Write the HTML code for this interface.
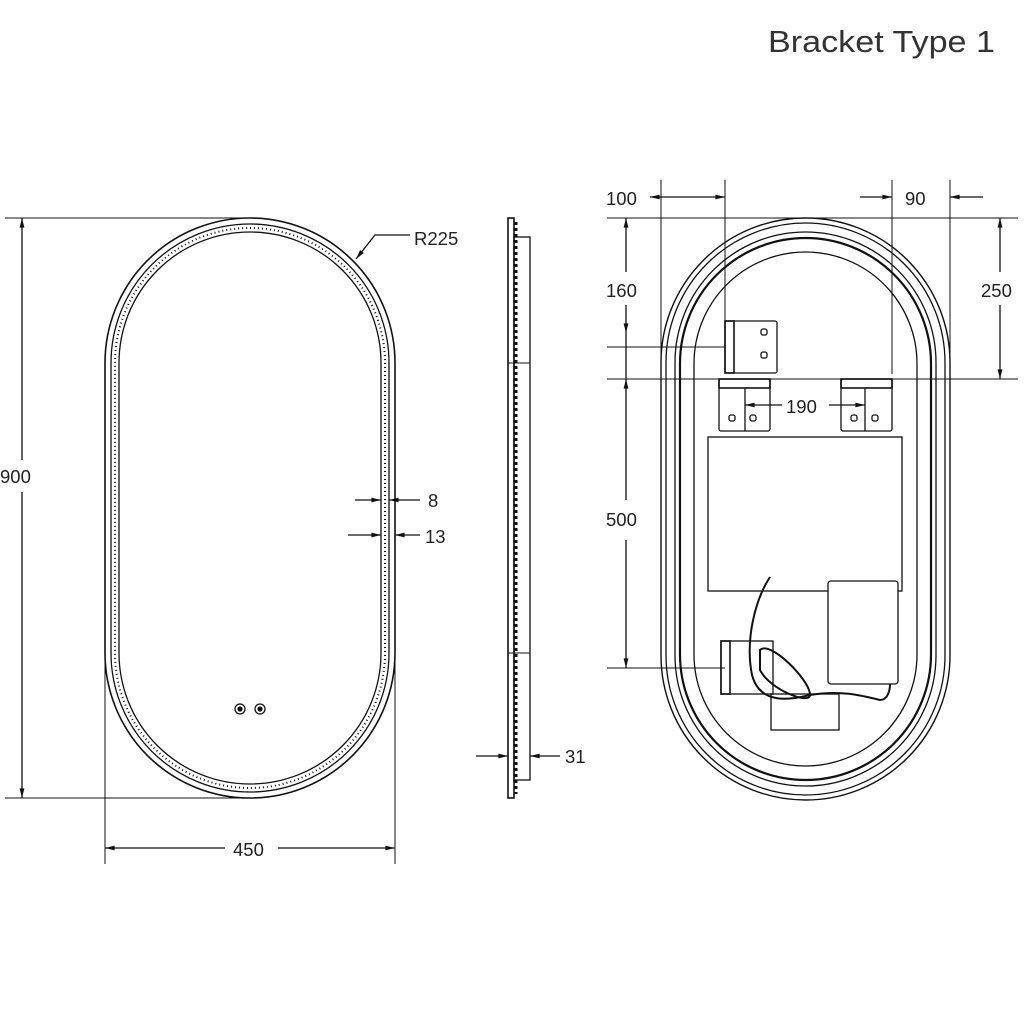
<!DOCTYPE html>
<html><head><meta charset="utf-8"><style>
html,body{margin:0;padding:0;background:#fff;}
svg{display:block;}
text{font-family:"Liberation Sans",sans-serif;fill:#222;}
</style></head><body>
<svg width="1024" height="1024" viewBox="0 0 1024 1024" xmlns="http://www.w3.org/2000/svg">
<defs>
<marker id="a" viewBox="0 0 12 10" refX="12" refY="5" markerWidth="13" markerHeight="8" orient="auto-start-reverse" markerUnits="userSpaceOnUse"><path d="M0,2 L12,5 L0,8 z" fill="#111"/></marker>
</defs>
<text x="768" y="52" font-size="31" textLength="227" lengthAdjust="spacingAndGlyphs" style="fill:#333">Bracket Type 1</text>
<g fill="none" stroke="#111" stroke-width="1.3">
<rect x="105" y="218" width="290" height="580" rx="145" stroke-width="1.6"/>
<rect x="111" y="224" width="278" height="568" rx="139"/>
<rect x="119" y="232" width="262" height="552" rx="131"/>
<rect x="115" y="228" width="270" height="560" rx="135" stroke-dasharray="1 3" stroke-width="2"/>
<circle cx="240" cy="709" r="5"/><circle cx="240" cy="709" r="2" fill="#111"/>
<circle cx="260" cy="709" r="5"/><circle cx="260" cy="709" r="2" fill="#111"/>
<line x1="5" y1="218" x2="245" y2="218" stroke-width="1"/>
<line x1="5" y1="798" x2="245" y2="798" stroke-width="1"/>
<line x1="22" y1="218" x2="22" y2="460" marker-start="url(#a)"/>
<line x1="22" y1="492" x2="22" y2="798" marker-end="url(#a)"/>
<line x1="105" y1="650" x2="105" y2="864" stroke-width="1"/>
<line x1="395" y1="650" x2="395" y2="864" stroke-width="1"/>
<line x1="105" y1="848" x2="225" y2="848" marker-start="url(#a)"/>
<line x1="278" y1="848" x2="395" y2="848" marker-end="url(#a)"/>
<polyline points="410,235 375,235 356,259" marker-end="url(#a)"/>
<line x1="355" y1="500" x2="381" y2="500" marker-end="url(#a)"/>
<line x1="420" y1="500" x2="389" y2="500" marker-end="url(#a)"/>
<line x1="348" y1="535" x2="381" y2="535" marker-end="url(#a)"/>
<line x1="420" y1="535" x2="395" y2="535" marker-end="url(#a)"/>
<rect x="508" y="218" width="6" height="580" stroke-width="1.6"/>
<line x1="516" y1="222" x2="516" y2="794" stroke-dasharray="3 3" stroke-width="3"/>
<rect x="514" y="237" width="16" height="543"/>
<line x1="508" y1="363" x2="530" y2="363" stroke-width="1"/>
<line x1="508" y1="653" x2="530" y2="653" stroke-width="1"/>
<line x1="476" y1="756" x2="508" y2="756" marker-end="url(#a)"/>
<line x1="560" y1="756" x2="530" y2="756" marker-end="url(#a)"/>
<rect x="661" y="218" width="289" height="582" rx="144.5" stroke-width="1.4"/>
<rect x="666" y="223" width="279" height="572" rx="139.5"/>
<rect x="675" y="232" width="261" height="554" rx="130.5"/>
<rect x="680" y="238" width="251" height="542" rx="125.5" stroke-width="2.2"/>
<rect x="694" y="252" width="223" height="514" rx="111.5"/>
<line x1="607" y1="218" x2="1018" y2="218" stroke-width="1"/>
<line x1="607" y1="379" x2="1018" y2="379" stroke-width="1"/>
<line x1="661" y1="180" x2="661" y2="580" stroke-width="1"/>
<line x1="725" y1="180" x2="725" y2="330" stroke-width="1"/>
<line x1="892" y1="180" x2="892" y2="374" stroke-width="1"/>
<line x1="950" y1="180" x2="950" y2="500" stroke-width="1"/>
<line x1="650" y1="197" x2="725" y2="197" marker-start="url(#a)" marker-end="url(#a)"/>
<line x1="860" y1="197" x2="892" y2="197" marker-end="url(#a)"/>
<line x1="983" y1="197" x2="950" y2="197" marker-end="url(#a)"/>
<line x1="1000" y1="218" x2="1000" y2="272" marker-start="url(#a)"/>
<line x1="1000" y1="305" x2="1000" y2="379" marker-end="url(#a)"/>
<line x1="626" y1="218" x2="626" y2="272" marker-start="url(#a)"/>
<line x1="626" y1="305" x2="626" y2="333" marker-end="url(#a)"/>
<line x1="626" y1="333" x2="626" y2="379"/>
<line x1="607" y1="347" x2="725" y2="347" stroke-width="1"/>
<line x1="626" y1="379" x2="626" y2="500" marker-start="url(#a)"/>
<line x1="626" y1="540" x2="626" y2="668" marker-end="url(#a)"/>
<line x1="607" y1="668" x2="725" y2="668" stroke-width="1"/>
<rect x="725" y="321" width="52" height="52" rx="2"/>
<rect x="725" y="321" width="9" height="52" stroke-width="1.6"/>
<rect x="761" y="329" width="6" height="6" rx="2"/><rect x="761" y="352" width="6" height="6" rx="2"/>
<rect x="719" y="379" width="51" height="52" rx="2"/>
<rect x="719" y="379" width="51" height="9" stroke-width="1.6"/>
<line x1="745" y1="388" x2="745" y2="431"/>
<rect x="729" y="415" width="6" height="6" rx="2"/><rect x="750" y="415" width="6" height="6" rx="2"/>
<rect x="841" y="379" width="51" height="52" rx="2"/>
<rect x="841" y="379" width="51" height="9" stroke-width="1.6"/>
<line x1="865" y1="388" x2="865" y2="431"/>
<rect x="851" y="415" width="6" height="6" rx="2"/><rect x="872" y="415" width="6" height="6" rx="2"/>
<line x1="782" y1="405" x2="745" y2="405" marker-end="url(#a)"/>
<line x1="829" y1="405" x2="865" y2="405" marker-end="url(#a)"/>
<rect x="708" y="437" width="194" height="154"/>
<rect x="828" y="581" width="70" height="103" rx="3" fill="#fff"/>
<rect x="721" y="641" width="52" height="53"/>
<rect x="721" y="641" width="9" height="53" stroke-width="1.6"/>
<rect x="771" y="694" width="68" height="36"/>
<path d="M770,577 C755,600 745,640 752,675 C760,705 790,700 810,695 C840,690 860,695 880,700 C888,700 890,690 890,684" stroke-width="2"/>
<path d="M760,650 C770,640 810,680 810,695 C810,705 770,690 760,670 Z" stroke-width="2"/>
</g>
<g font-size="18.5">
<text x="0" y="483">900</text>
<text x="233" y="856">450</text>
<text x="414" y="245">R225</text>
<text x="428" y="507">8</text>
<text x="425" y="543">13</text>
<text x="565" y="763">31</text>
<text x="606" y="205">100</text>
<text x="905" y="205">90</text>
<text x="981" y="297">250</text>
<text x="606" y="297">160</text>
<text x="786" y="413">190</text>
<text x="606" y="526">500</text>
</g>
</svg>
</body></html>
